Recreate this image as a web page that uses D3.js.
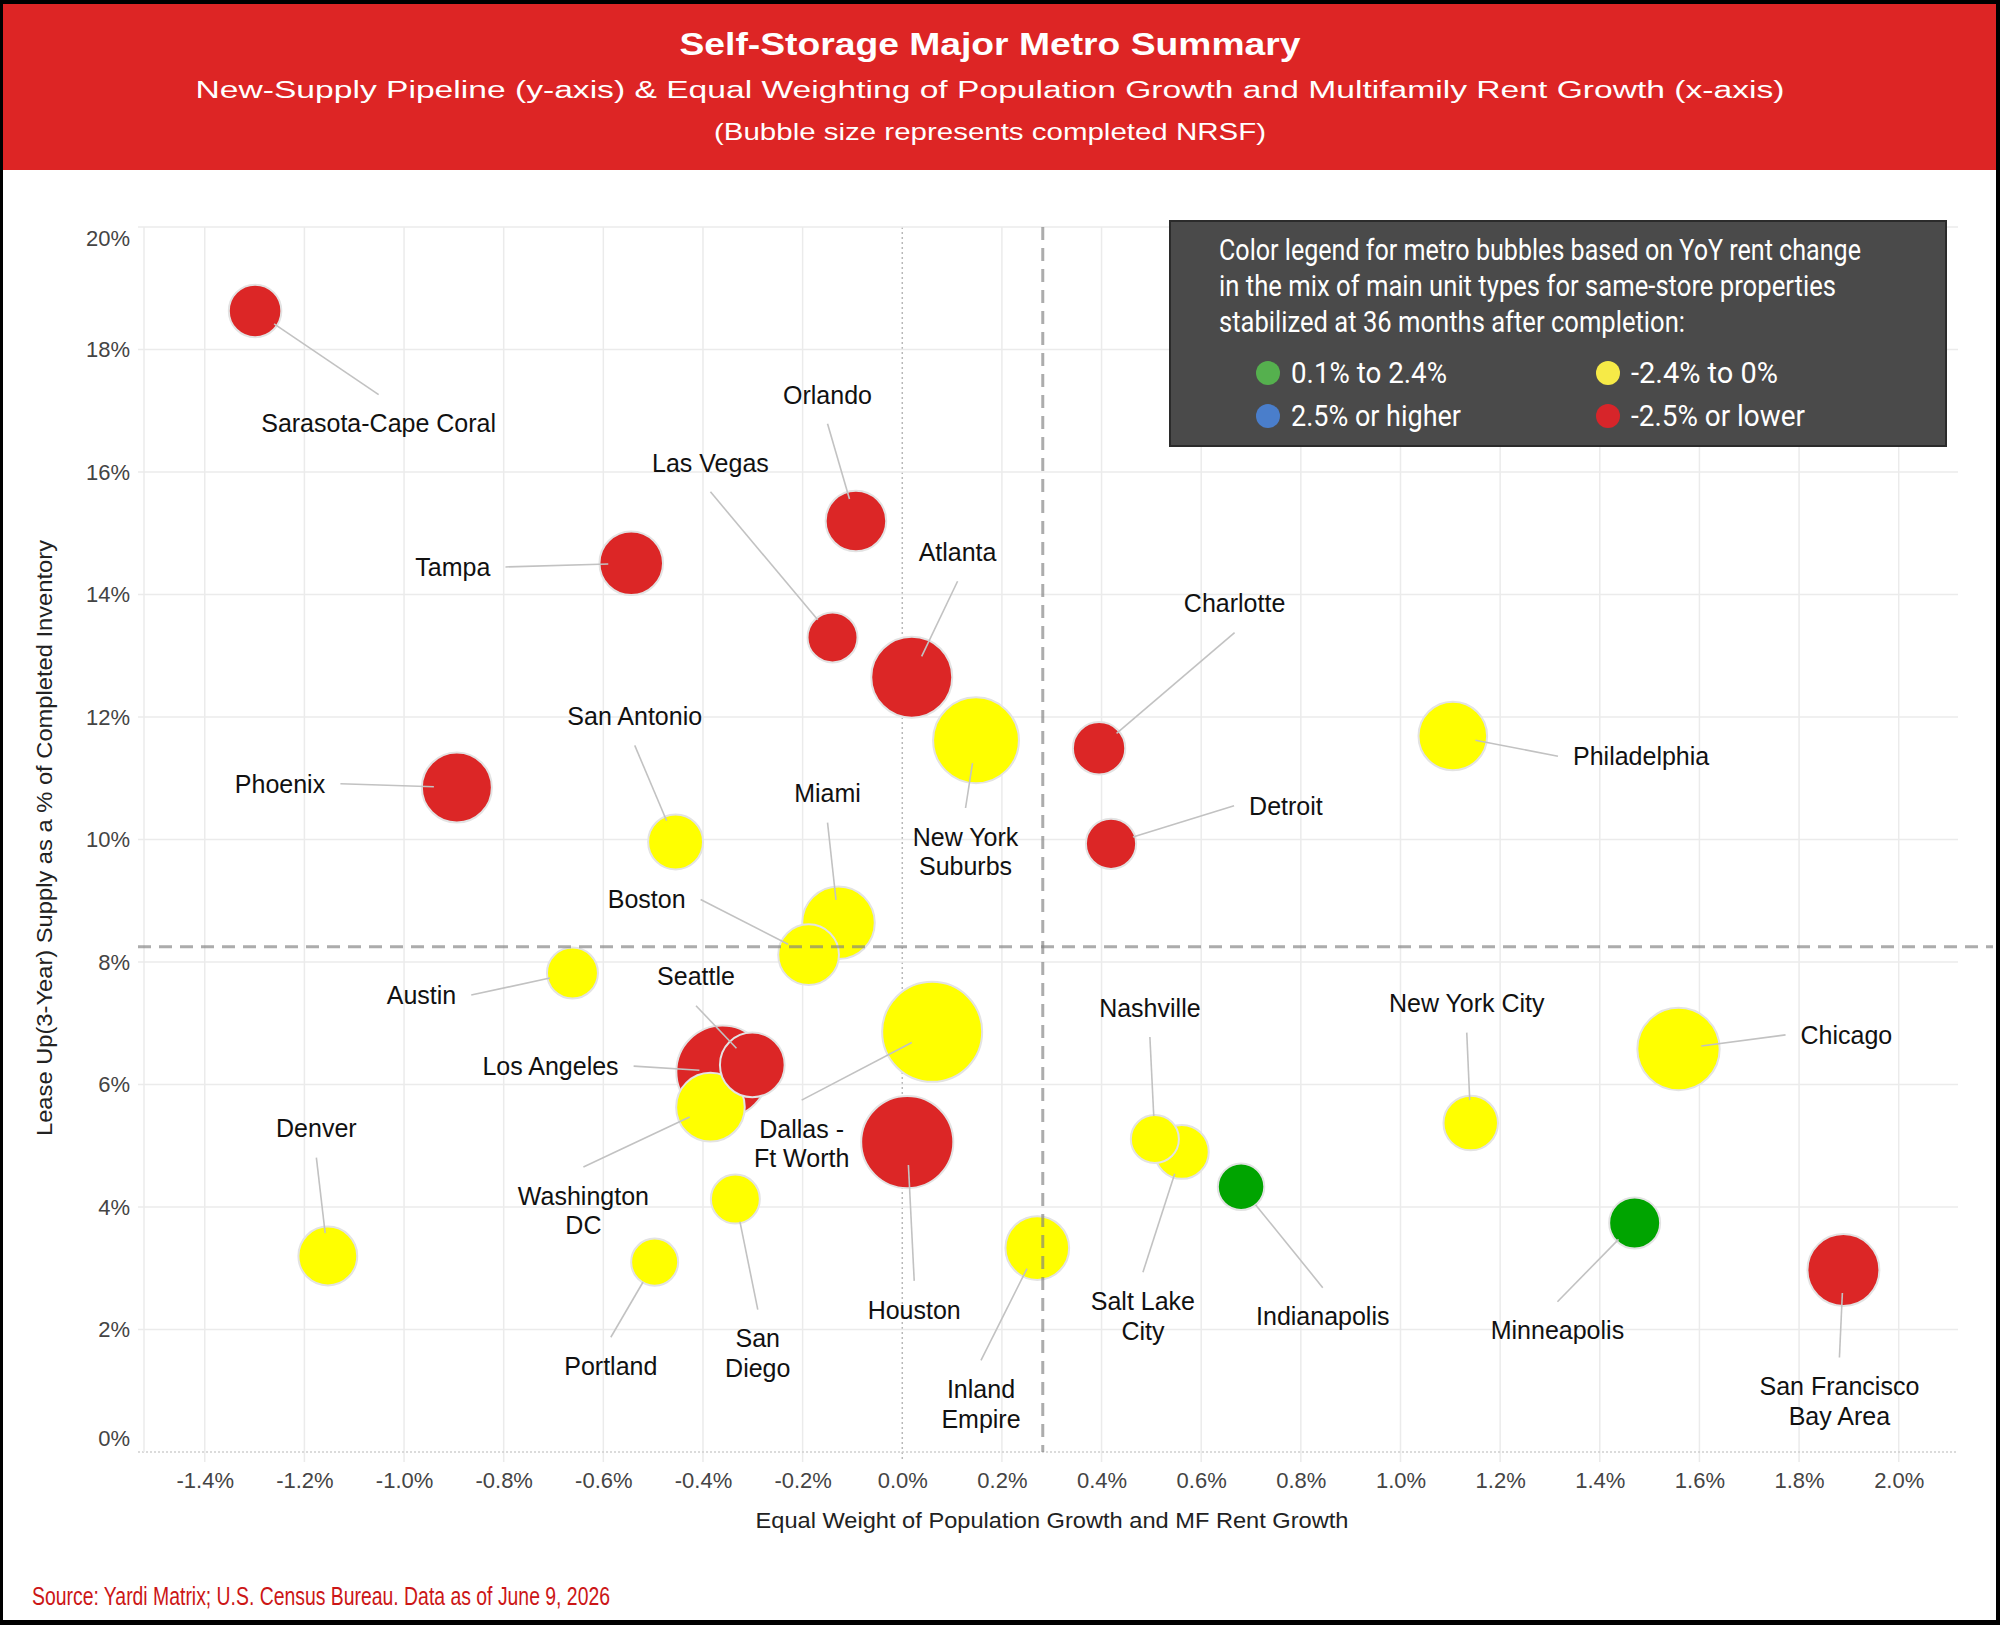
<!DOCTYPE html>
<html>
<head>
<meta charset="utf-8">
<script src="https://cdn.jsdelivr.net/npm/d3@7"></script>
<style>
  html, body { margin: 0; padding: 0; background: #000; }
  svg { display: block; }
</style>
</head>
<body>
<svg id="chart" width="2000" height="1625"></svg>
<script>
// ---- data ----
const metros = ["Sarasota-Cape Coral", "Orlando", "Las Vegas", "Tampa", "Atlanta",
  "New York\nSuburbs", "Charlotte", "Philadelphia", "Detroit", "Phoenix",
  "San Antonio", "Miami", "Boston", "Austin", "Seattle",
  "Los Angeles", "Washington\nDC", "Dallas -\nFt Worth", "Houston", "Denver",
  "San\nDiego", "Portland", "Inland\nEmpire", "Nashville", "Salt Lake\nCity",
  "Indianapolis", "New York City", "Chicago", "Minneapolis", "San Francisco\nBay Area"];

// x: equal weight of population growth and MF rent growth (%)
const growth = [-1.299, -0.093, -0.140, -0.544, 0.019,
  0.148, 0.395, 1.105, 0.419, -0.894,
  -0.455, -0.128, -0.188, -0.662, -0.301,
  -0.361, -0.385, 0.060, 0.010, -1.153,
  -0.335, -0.497, 0.271, 0.507, 0.561,
  0.680, 1.141, 1.558, 1.470, 1.889];

// y: lease-up (3-year) supply as % of completed inventory
const pipeline = [18.63, 15.20, 13.30, 14.51, 12.65,
  11.62, 11.49, 11.69, 9.93, 10.85,
  9.96, 8.64, 8.12, 7.82, 6.32,
  6.21, 5.63, 6.86, 5.06, 3.20,
  4.13, 3.10, 3.33, 5.11, 4.90,
  4.33, 5.37, 6.58, 3.74, 2.97];

// completed NRSF (relative, millions of sq ft)
const nrsf = [27.6, 36.7, 25.0, 40.4, 65.6,
  73.7, 27.4, 47.1, 25.2, 49.0,
  30.1, 52.6, 36.9, 26.0, 41.9,
  84.9, 47.1, 100, 84.9, 34.6,
  24.0, 22.1, 40.6, 23.1, 29.1,
  21.6, 29.7, 67.8, 26.0, 51.8];

// YoY rent change band (index into bands)
const rentBand = [3, 3, 3, 3, 3,
  2, 3, 2, 3, 3,
  2, 2, 2, 2, 3,
  3, 2, 2, 3, 2,
  2, 2, 2, 2, 2,
  0, 2, 2, 0, 3];

// where each label sits, in data units
const labelGrowth = [-1.051, -0.150, -0.385, -0.902, 0.111,
  0.127, 0.667, 1.483, 0.770, -1.249,
  -0.537, -0.150, -0.513, -0.965, -0.414,
  -0.706, -0.640, -0.202, 0.024, -1.176,
  -0.290, -0.585, 0.158, 0.497, 0.483,
  0.844, 1.133, 1.895, 1.315, 1.881];
const labelPipeline = [16.79, 17.26, 16.15, 14.45, 14.69,
  9.80, 13.85, 11.36, 10.55, 10.91,
  12.01, 10.75, 9.02, 7.46, 7.76,
  6.30, 3.94, 5.03, 2.32, 5.28,
  1.61, 1.40, 0.78, 7.25, 2.22,
  2.21, 7.32, 6.81, 1.98, 0.83];

const bands = ["0.1% to 2.4%", "2.5% or higher", "-2.4% to 0%", "-2.5% or lower"];
const bubbleColors = ["#00a400", "#3f7fd0", "#ffff00", "#dc2626"];
const legendColors = ["#55b04e", "#4a7ecb", "#f6ea47", "#d7252a"];

const legendTitle = ["Color legend for metro bubbles based on YoY rent change",
  "in the mix of main unit types for same-store properties",
  "stabilized at 36 months after completion:"];

const xTicks = [-1.4, -1.2, -1.0, -0.8, -0.6, -0.4, -0.2, 0.0, 0.2, 0.4, 0.6, 0.8, 1.0, 1.2, 1.4, 1.6, 1.8, 2.0];
const yTicks = [0, 2, 4, 6, 8, 10, 12, 14, 16, 18, 20];

const avgSupply = 8.25;   // horizontal reference line
const avgGrowth = 0.282;  // vertical reference line

const title = "Self-Storage Major Metro Summary";
const subtitle = "New-Supply Pipeline (y-axis) & Equal Weighting of Population Growth and Multifamily Rent Growth (x-axis)";
const subtitle2 = "(Bubble size represents completed NRSF)";
const xTitle = "Equal Weight of Population Growth and MF Rent Growth";
const yTitle = "Lease Up(3-Year) Supply as a % of Completed Inventory";
const source = "Source: Yardi Matrix; U.S. Census Bureau. Data as of June 9, 2026";

// ---- layout ----
const W = 2000, H = 1625;
const plot = {left: 138, right: 1958, top: 227, bottom: 1452};
const sans = "'Liberation Sans', Arial, Helvetica, sans-serif";

const svg = d3.select("#chart");

// frame + header band
svg.append("rect").attr("width", W).attr("height", H).attr("fill", "#000");
svg.append("rect").attr("x", 3).attr("y", 4).attr("width", W - 7).attr("height", H - 9).attr("fill", "#fff");
svg.append("rect").attr("x", 3).attr("y", 4).attr("width", W - 7).attr("height", 166).attr("fill", "#dd2525");

const header = svg.append("g").attr("fill", "#fff").attr("font-family", sans).attr("text-anchor", "middle");
header.append("text").attr("x", 990).attr("y", 55).attr("font-size", 31).attr("font-weight", "bold")
  .attr("textLength", 621).attr("lengthAdjust", "spacingAndGlyphs").text(title);
header.append("text").attr("x", 990).attr("y", 98).attr("font-size", 23)
  .attr("textLength", 1589).attr("lengthAdjust", "spacingAndGlyphs").text(subtitle);
header.append("text").attr("x", 990).attr("y", 140).attr("font-size", 24.5)
  .attr("textLength", 552).attr("lengthAdjust", "spacingAndGlyphs").text(subtitle2);

// ---- scales ----
const x = d3.scaleLinear().domain([-1.534, 2.119]).range([plot.left, plot.right]);
const y = d3.scaleLinear().domain([0, 20]).range([plot.bottom, plot.top]);
const r = d3.scaleSqrt().domain([0, 100]).range([0, 50]);

const fmtX = v => (v < -1e-9 ? "-" : "") + Math.abs(v).toFixed(1) + "%";
const fmtY = v => v + "%";

// ---- grid ----
const grid = svg.append("g");
grid.selectAll("line.vg").data(xTicks).join("line")
  .attr("x1", d => x(d)).attr("x2", d => x(d))
  .attr("y1", plot.top).attr("y2", plot.bottom + 10)
  .attr("stroke", d => Math.abs(d) < 1e-9 ? "#b8b8b8" : "#ebebeb")
  .attr("stroke-width", 1.5)
  .attr("stroke-dasharray", d => Math.abs(d) < 1e-9 ? "2,3" : null);
grid.selectAll("line.hg").data(yTicks).join("line")
  .attr("x1", plot.left).attr("x2", plot.right)
  .attr("y1", d => y(d)).attr("y2", d => y(d))
  .attr("stroke", d => d === 0 ? "#cfcfcf" : "#ebebeb")
  .attr("stroke-width", 1.5)
  .attr("stroke-dasharray", d => d === 0 ? "2,2" : null);
grid.append("line").attr("x1", plot.left + 6).attr("x2", plot.left + 6)
  .attr("y1", plot.top).attr("y2", plot.bottom).attr("stroke", "#ebebeb").attr("stroke-width", 1.5);

// ---- axes ----
const xAxis = d3.axisBottom(x).tickValues(xTicks).tickFormat(fmtX).tickSize(0).tickPadding(20);
const gx = svg.append("g").attr("transform", `translate(0,${plot.bottom})`).call(xAxis);
gx.select(".domain").remove();
gx.selectAll("text").attr("font-family", sans).attr("font-size", 22).attr("fill", "#444");

const yAxis = d3.axisLeft(y).tickValues(yTicks).tickFormat(fmtY).tickSize(0).tickPadding(8);
const gy = svg.append("g").attr("transform", `translate(${plot.left},0)`).call(yAxis);
gy.select(".domain").remove();
gy.selectAll("text").attr("font-family", sans).attr("font-size", 22).attr("fill", "#444")
  .attr("dy", d => d === 20 ? "0.85em" : d === 0 ? "-0.3em" : "0.32em");

svg.append("text").attr("x", 1052).attr("y", 1528).attr("text-anchor", "middle")
  .attr("font-family", sans).attr("font-size", 22).attr("fill", "#222")
  .attr("textLength", 593).attr("lengthAdjust", "spacingAndGlyphs").text(xTitle);
svg.append("text").attr("transform", "translate(52,838) rotate(-90)").attr("text-anchor", "middle")
  .attr("font-family", sans).attr("font-size", 22).attr("fill", "#222")
  .attr("textLength", 596).attr("lengthAdjust", "spacingAndGlyphs").text(yTitle);

// ---- bubbles ----
const rows = metros.map((name, i) => ({
  name, gx: growth[i], py: pipeline[i], size: nrsf[i], band: rentBand[i],
  lx: labelGrowth[i], ly: labelPipeline[i]
}));
const bySize = rows.slice().sort((a, b) => b.size - a.size);

svg.append("g").selectAll("circle").data(bySize).join("circle")
  .attr("cx", d => x(d.gx)).attr("cy", d => y(d.py)).attr("r", d => r(d.size))
  .attr("fill", d => bubbleColors[d.band])
  .attr("stroke", "#e3e3e3").attr("stroke-width", 2);

// reference lines drawn over the bubbles
const refs = svg.append("g").attr("stroke", "#808080").attr("stroke-opacity", 0.65)
  .attr("stroke-width", 3).attr("stroke-dasharray", "13,8");
refs.append("line").attr("x1", plot.left).attr("x2", plot.right + 35)
  .attr("y1", y(avgSupply)).attr("y2", y(avgSupply));
refs.append("line").attr("x1", x(avgGrowth)).attr("x2", x(avgGrowth))
  .attr("y1", plot.top).attr("y2", plot.bottom);

// ---- labels with leader lines (repel-style: segment to the mid of the facing side) ----
const lineH = 29.5;
const labels = svg.append("g").attr("font-family", sans).attr("font-size", 25)
  .attr("fill", "#111").attr("text-anchor", "middle");
const leaders = svg.append("g").attr("stroke", "#c2c2c2").attr("stroke-width", 1.6);

rows.forEach(d => {
  const lines = d.name.split("\n");
  const cx = x(d.lx), cy = y(d.ly);
  const t = labels.append("text");
  lines.forEach((ln, k) => {
    t.append("tspan").attr("x", cx).attr("y", cy + (k - (lines.length - 1) / 2) * lineH)
      .attr("dy", "0.35em").text(ln);
  });
  const bb = t.node().getBBox();
  const pad = 15;
  const hw = bb.width / 2 + pad, hh = bb.height / 2 + pad;
  const px = x(d.gx), py = y(d.py);
  const dx = px - cx, dy = py - cy;
  let sx, sy;
  if (Math.abs(dy) * hw > Math.abs(dx) * hh) {
    sx = cx; sy = cy + Math.sign(dy) * hh;
  } else {
    sx = cx + Math.sign(dx) * hw; sy = cy;
  }
  const len = Math.hypot(px - sx, py - sy);
  if (len > 30) {
    const ex = px - (px - sx) / len * 23, ey = py - (py - sy) / len * 23;
    leaders.append("line").attr("x1", sx).attr("y1", sy).attr("x2", ex).attr("y2", ey);
  }
});

// ---- colour legend ----
const lg = svg.append("g");
lg.append("rect").attr("x", 1170).attr("y", 221).attr("width", 776).attr("height", 225)
  .attr("fill", "#4a4a4a").attr("stroke", "#2b2b2b").attr("stroke-width", 2);
const legendFont = "Roboto, 'Open Sans', sans-serif";
const titleWidths = [642, 617, 466];
lg.selectAll("text.lt").data(legendTitle).join("text")
  .attr("x", 1219).attr("y", (d, i) => 260 + i * 36)
  .attr("font-family", legendFont).attr("font-size", 29).attr("fill", "#fff")
  .attr("textLength", (d, i) => titleWidths[i]).attr("lengthAdjust", "spacingAndGlyphs")
  .text(d => d);
const itemWidths = [156, 170, 147, 174];
const item = lg.selectAll("g.item").data(bands).join("g")
  .attr("transform", (d, i) => `translate(${1268 + Math.floor(i / 2) * 340},${373 + (i % 2) * 43})`);
item.append("circle").attr("r", 12).attr("fill", (d, i) => legendColors[i]);
item.append("text").attr("x", 23).attr("y", 10)
  .attr("font-family", legendFont).attr("font-size", 29).attr("fill", "#fff")
  .attr("textLength", (d, i) => itemWidths[i]).attr("lengthAdjust", "spacingAndGlyphs")
  .text(d => d);

// ---- source ----
svg.append("text").attr("x", 32).attr("y", 1605)
  .attr("font-family", sans).attr("font-size", 25).attr("fill", "#cc1616")
  .attr("textLength", 578).attr("lengthAdjust", "spacingAndGlyphs").text(source);
</script>
</body>
</html>
